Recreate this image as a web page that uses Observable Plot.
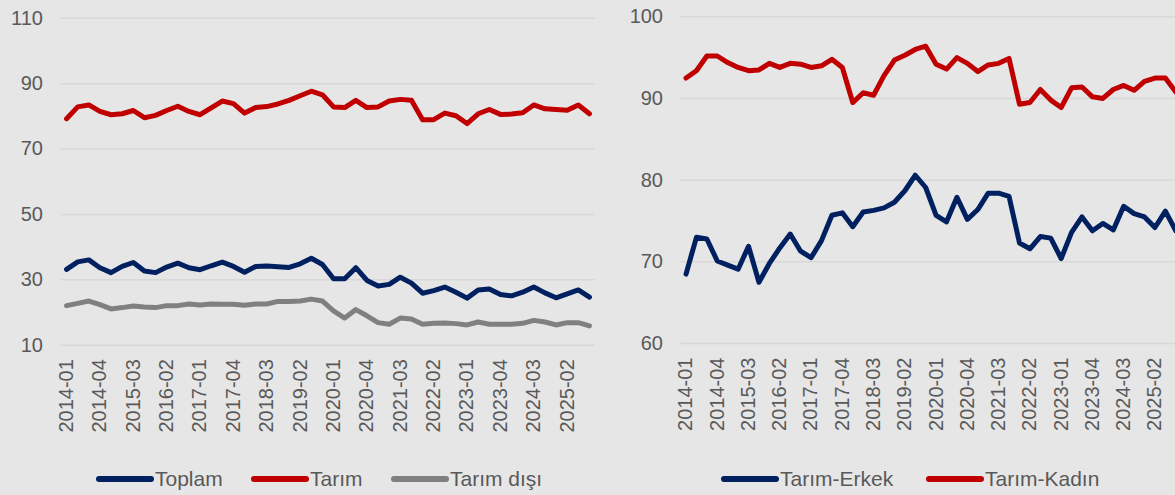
<!DOCTYPE html>
<html><head><meta charset="utf-8">
<script src="https://cdn.jsdelivr.net/npm/d3@7"></script>
<script src="https://cdn.jsdelivr.net/npm/@observablehq/plot@0.6"></script>
<style>
html,body{margin:0;padding:0;background:#e6e6e6;}
body{width:1175px;height:495px;overflow:hidden;position:relative;font-family:"Liberation Sans",Arial,sans-serif;}
.panel{position:absolute;top:0;width:600px;height:400px;}
.panel svg{max-width:none !important;}
.legend-item{position:absolute;display:flex;align-items:center;font-size:21px;color:#595959;white-space:nowrap;height:24px;}
.legend-item svg{margin-right:1px;}
</style></head><body>
<div id="left" class="panel" style="left:0px"></div>
<div id="right" class="panel" style="left:600px"></div>
<div id="legend"></div>
<script>
const periods = ["2014-01","2014-02","2014-03","2014-04","2015-01","2015-02","2015-03","2015-04",
  "2016-01","2016-02","2016-03","2016-04","2017-01","2017-02","2017-03","2017-04",
  "2018-01","2018-02","2018-03","2018-04","2019-01","2019-02","2019-03","2019-04",
  "2020-01","2020-02","2020-03","2020-04","2021-01","2021-02","2021-03","2021-04",
  "2022-01","2022-02","2022-03","2022-04","2023-01","2023-02","2023-03","2023-04",
  "2024-01","2024-02","2024-03","2024-04","2025-01","2025-02","2025-03","2025-04"];
const tickLabels = ["2014-01","2014-04","2015-03","2016-02","2017-01","2017-04","2018-03","2019-02",
  "2020-01","2020-04","2021-03","2022-02","2023-01","2023-04","2024-03","2025-02"];

const toplam = [33.2,35.5,36.1,33.7,32.2,34.1,35.3,32.7,32.2,33.9,35.1,33.7,33.1,34.3,35.4,34.1,
  32.3,34.1,34.2,34.0,33.8,34.9,36.6,34.7,30.3,30.3,33.7,29.8,28.1,28.6,30.8,29.0,
  25.9,26.7,27.8,26.2,24.4,26.9,27.2,25.5,25.1,26.2,27.8,26.0,24.5,25.7,26.9,24.7];
const tarim = [79.3,82.9,83.5,81.5,80.5,80.8,81.8,79.6,80.3,81.8,83.1,81.5,80.5,82.6,84.7,83.9,
  81.0,82.7,83.0,83.8,84.9,86.3,87.7,86.6,82.9,82.7,84.9,82.7,82.9,84.7,85.2,84.9,
  79.0,79.0,81.0,80.2,77.8,80.8,82.1,80.6,80.7,81.1,83.5,82.3,82.1,81.9,83.5,80.8];
const tarimDisi = [22.1,22.8,23.5,22.4,21.1,21.5,22.0,21.7,21.5,22.1,22.1,22.6,22.3,22.6,22.5,22.5,
  22.2,22.6,22.6,23.4,23.4,23.5,24.1,23.5,20.5,18.3,20.9,19.0,16.9,16.4,18.3,18.0,
  16.4,16.7,16.8,16.6,16.2,17.1,16.4,16.4,16.4,16.7,17.6,17.1,16.2,16.9,16.9,15.9];
const tarimErkek = [68.5,73.0,72.8,70.1,69.6,69.1,71.9,67.5,69.8,71.7,73.4,71.3,70.5,72.6,75.7,76.0,
  74.3,76.1,76.3,76.6,77.3,78.7,80.6,79.1,75.7,74.9,77.9,75.2,76.4,78.4,78.4,78.0,
  72.3,71.6,73.1,72.9,70.4,73.6,75.5,73.8,74.7,73.9,76.8,75.9,75.5,74.2,76.2,73.8];
const tarimKadin = [92.5,93.4,95.2,95.2,94.4,93.8,93.4,93.5,94.3,93.8,94.3,94.2,93.8,94.0,94.8,93.8,
  89.5,90.7,90.4,92.8,94.7,95.3,96.0,96.4,94.2,93.6,95.0,94.3,93.3,94.1,94.3,94.9,
  89.3,89.5,91.1,89.8,88.9,91.3,91.4,90.2,90.0,91.1,91.6,91.0,92.1,92.5,92.5,90.8];

const leftTicks = [10,30,50,70,90,110];
const rightTicks = [60,70,80,90,100];

const NAVY = "#002060", RED = "#C00000", GRAY = "#808080", TEXT = "#595959", GRID = "#d8d8d8";

function rows(values) { return values.map((v, i) => ({period: periods[i], value: v})); }

function makePanel({series, domain, ticks, width, marginLeft, marginRight, marginTop, marginBottom, height, tickPadding, labelDy}) {
  return Plot.plot({
    width, height, marginLeft, marginRight, marginTop, marginBottom,
    style: {background: "transparent", fontFamily: "'Liberation Sans', Arial, sans-serif", fontSize: "20px", color: TEXT, overflow: "visible", maxWidth: "none"},
    x: {type: "point", domain: periods, padding: 0.5, round: false, axis: null},
    y: {domain, axis: null},
    marks: [
      Plot.ruleY(ticks, {stroke: GRID, strokeWidth: 1.5}),
      Plot.axisY({ticks, tickSize: 0, tickPadding, fontSize: 20, fill: TEXT, label: null}),
      Plot.text(tickLabels, {x: d => d, frameAnchor: "bottom", dy: labelDy, rotate: -90, textAnchor: "end", lineAnchor: "middle", fill: TEXT, fontSize: 20}),
      ...series.map(s => Plot.line(rows(s.values), {x: "period", y: "value", stroke: s.color, strokeWidth: 5, strokeLinejoin: "round", strokeLinecap: "round"}))
    ]
  });
}

document.getElementById("left").append(makePanel({
  series: [{values: tarimDisi, color: GRAY}, {values: tarim, color: RED}, {values: toplam, color: NAVY}],
  domain: [10, 110], ticks: leftTicks, width: 600, height: 400,
  marginLeft: 60.5, marginRight: 5.5, marginTop: 17.8, marginBottom: 400 - 344.7,
  tickPadding: 18, labelDy: 14
}));

document.getElementById("right").append(makePanel({
  series: [{values: tarimKadin, color: RED}, {values: tarimErkek, color: NAVY}],
  domain: [60, 100], ticks: rightTicks, width: 600, height: 400,
  marginLeft: 80.3, marginRight: 600 - 80.3 - 500.2, marginTop: 16.3, marginBottom: 400 - 343,
  tickPadding: 17.8, labelDy: 14
}));

const legendItems = [
  {label: "Toplam", color: NAVY, left: 96},
  {label: "Tarım", color: RED, left: 251},
  {label: "Tarım dışı", color: GRAY, left: 391},
  {label: "Tarım-Erkek", color: NAVY, left: 721},
  {label: "Tarım-Kadın", color: RED, left: 926}
];
const legend = document.getElementById("legend");
for (const item of legendItems) {
  const div = document.createElement("div");
  div.className = "legend-item";
  div.style.left = item.left + "px";
  div.style.top = (479 - 12) + "px";
  div.innerHTML = `<svg width="58" height="10"><line x1="3" y1="5" x2="55" y2="5" stroke="${item.color}" stroke-width="6" stroke-linecap="round"/></svg><span>${item.label}</span>`;
  legend.append(div);
}
</script>
</body></html>
